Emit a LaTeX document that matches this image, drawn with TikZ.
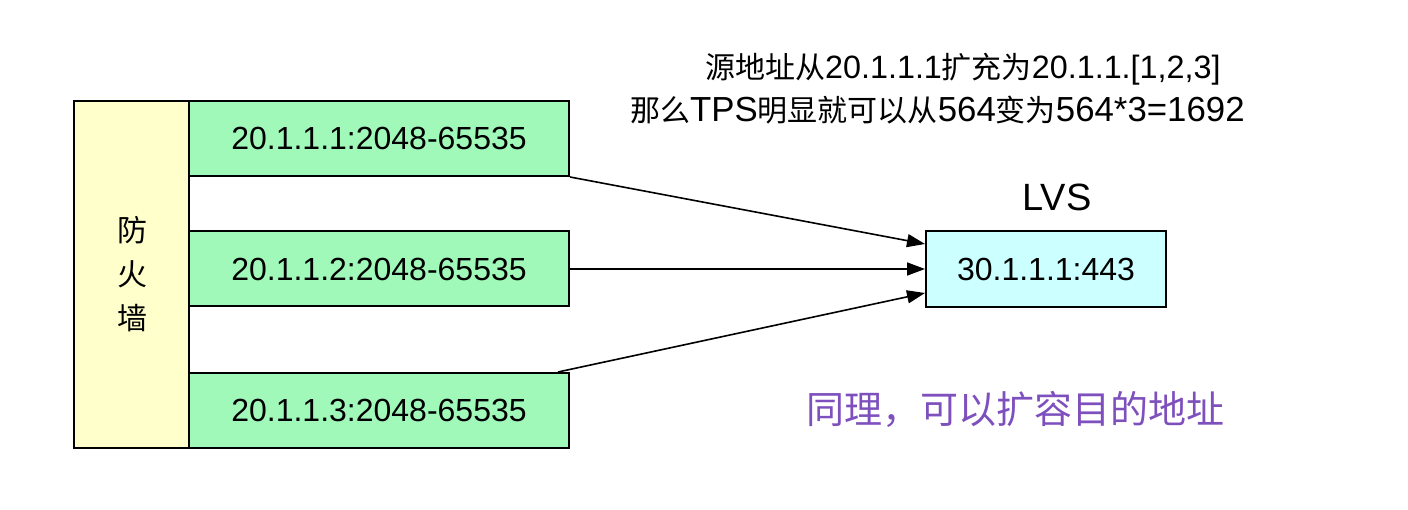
\documentclass[tikz,border=0pt]{standalone}
\usepackage{fontspec}
\setmainfont{Liberation Sans}
\newfontfamily\cjk{Noto Sans CJK SC}
\usetikzlibrary{arrows.meta}
\definecolor{fwyellow}{RGB}{255,255,204}
\definecolor{ipgreen}{RGB}{161,249,185}
\definecolor{lvscyan}{RGB}{204,255,255}
\definecolor{notepurple}{RGB}{126,80,190}
\newcommand{\myzh}[1]{{\cjk\fontsize{30}{36}\selectfont #1}}
\newcommand{\mylat}[2][33]{{\fontsize{#1}{36}\selectfont #2}}
\tikzset{
  boxstyle/.style={draw=black, line width=2pt, inner sep=0pt, align=center},
  fwbox/.style={boxstyle, fill=fwyellow, minimum width=115pt, minimum height=347pt},
  ipbox/.style={boxstyle, fill=ipgreen, minimum width=380pt, minimum height=75pt, font=\fontsize{32}{38}\selectfont},
  lvsbox/.style={boxstyle, fill=lvscyan, minimum width=240pt, minimum height=76pt, font=\fontsize{32}{38}\selectfont},
  arr/.style={line width=1.6pt, -{Triangle[length=18pt,width=13pt]}},
  notetext/.style={inner sep=0pt, anchor=base west}
}
\begin{document}
\begin{tikzpicture}[x=1pt,y=-1pt]
\useasboundingbox (0,0) rectangle (1408,510);
\node[fwbox] (fw) at (131.5,274.5) {};
\node[inner sep=0pt, align=center, font=\cjk\fontsize{30}{44}\selectfont] (fwtext) at (132,274) {防\\火\\墙};
\node[ipbox] (b1) at (379,138.5) {20.1.1.1:2048-65535};
\node[ipbox] (b2) at (379,269) {20.1.1.2:2048-65535};
\node[ipbox] (b3) at (379,410.5) {20.1.1.3:2048-65535};
\node[lvsbox] (lvs) at (1046,269) {30.1.1.1:443};
\node[inner sep=0pt, font=\fontsize{38}{40}\selectfont] (lvslabel) at (1057,197.5) {LVS};
\draw[arr] (b1.south east) -- ([yshift=25pt]lvs.west);
\draw[arr] (b2.east) -- (lvs.west);
\draw[arr] ([xshift=-12pt]b3.north east) -- ([yshift=-24pt]lvs.west);
\node[notetext] (note1) at (705,79) {\myzh{源地址从}\mylat[32.3]{20.1.1.1}\myzh{扩充为}\mylat[32.3]{20.1.1.[1,2,3]}};
\node[notetext] (note2) at (630,122) {\myzh{那么}\mylat[34.8]{TPS}\myzh{明显就可以从}\mylat[34.8]{564}\myzh{变为}\mylat[34.8]{564*3=1692}};
\node[inner sep=0pt, text=notepurple, font=\cjk\fontsize{38}{40}\selectfont] (note3) at (1015.5,409) {同理，可以扩容目的地址};
\end{tikzpicture}
\end{document}
